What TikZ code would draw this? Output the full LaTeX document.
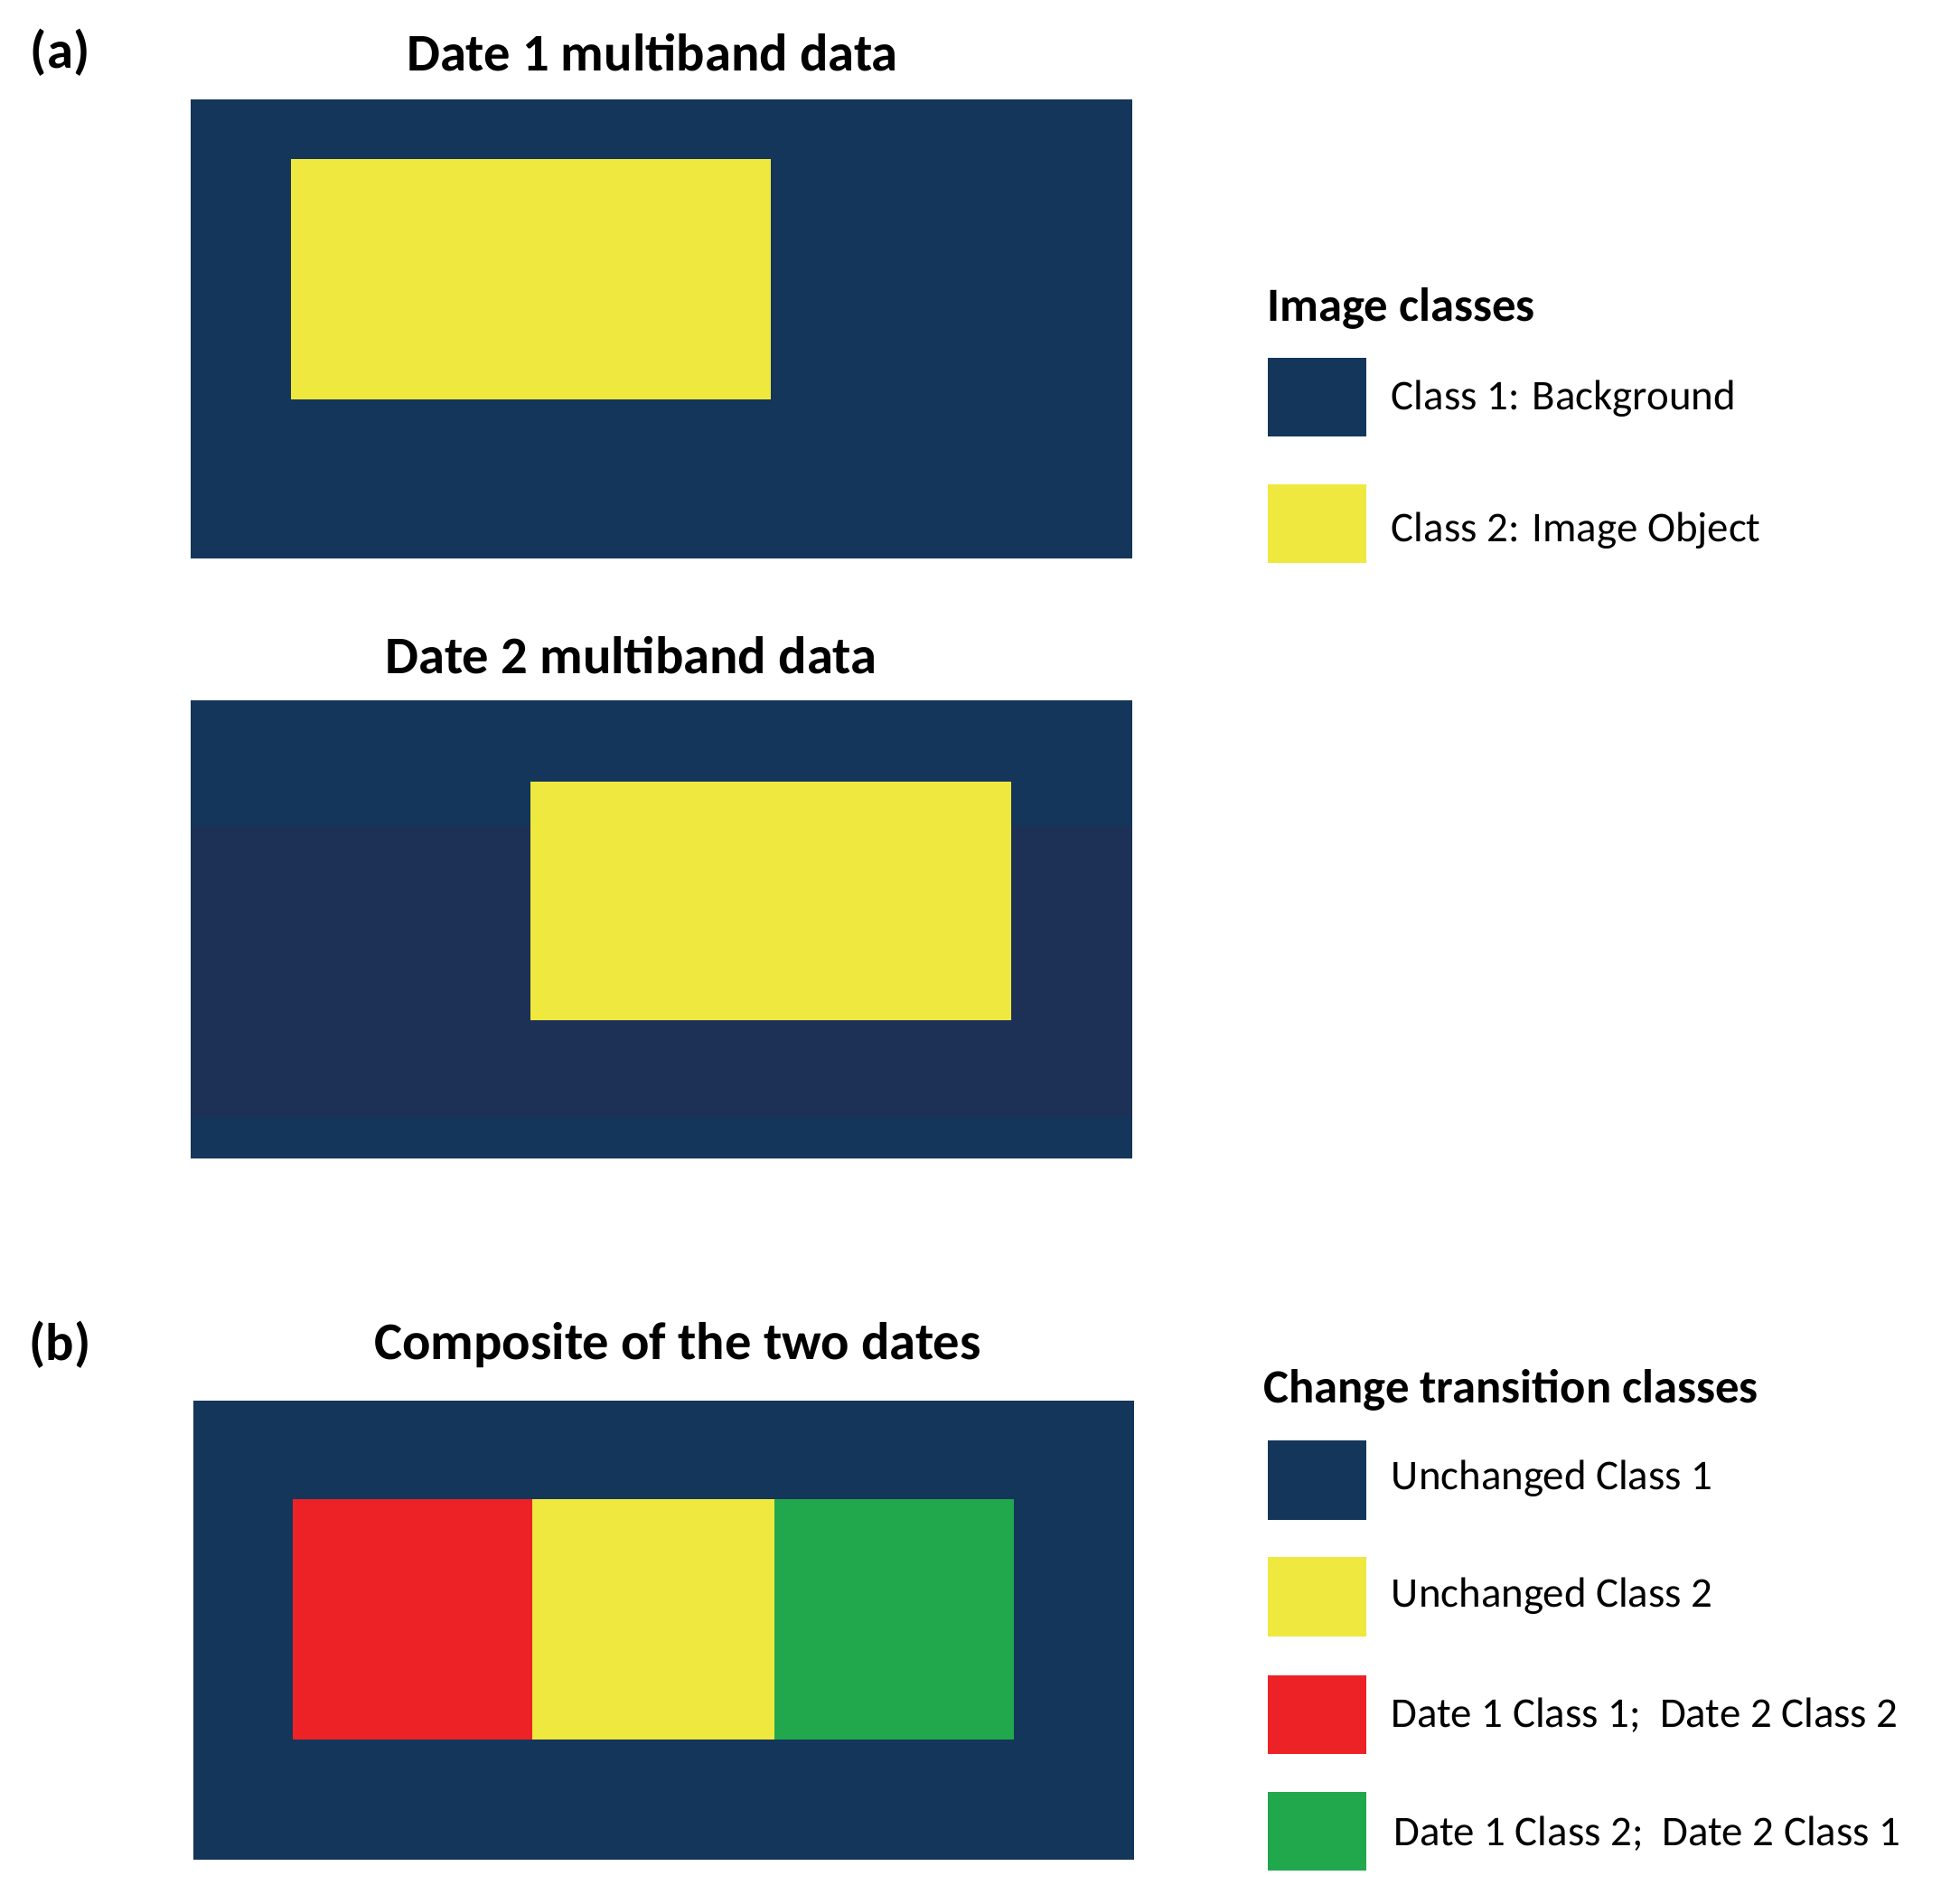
\documentclass[tikz,border=0pt]{standalone}
\usepackage{fontspec}
\setmainfont{Carlito}
\begin{document}
\begin{tikzpicture}[x=0.25mm,y=-0.25mm,
  ttl/.style={font=\fontsize{30}{34}\selectfont\bfseries},
  lbl/.style={font=\fontsize{24}{28}\selectfont,anchor=west},
  lgd/.style={font=\fontsize{27}{30}\selectfont\bfseries,anchor=west}]
\definecolor{navy}{HTML}{14365A}
\definecolor{navyb}{HTML}{1D3157}
\definecolor{yel}{HTML}{EFE83F}
\definecolor{red2}{HTML}{EC2227}
\definecolor{grn}{HTML}{21A84D}
\useasboundingbox (0,0) rectangle (1562,1502);
\node[ttl] (la) at (48,42) {(a)};
\node[ttl] (t1) at (520,42) {Date 1 multiband data};
\fill[navy] (152,79) rectangle (902,445);
\fill[yel] (232,127) rectangle (614,318);
\node[ttl] (t2) at (503,522) {Date 2 multiband data};
\fill[navy] (152,558) rectangle (902,923);
\fill[navyb] (152,658) rectangle (902,890);
\fill[yel] (423,623) rectangle (806,813);
\node[lgd] (lg1) at (1005,246) {Image classes};
\fill[navy] (1010,285) rectangle (1089,348);
\fill[yel] (1010,386) rectangle (1089,449);
\node[lbl] (c1) at (1104,318) {Class 1: Background};
\node[lbl] (c2) at (1104,423) {Class 2: Image Object};
\node[ttl] (lb) at (48,1072) {(b)};
\node[ttl] (t3) at (540,1072) {Composite of the two dates};
\fill[navy] (154,1116) rectangle (904,1482);
\fill[red2] (233,1195) rectangle (424,1386);
\fill[yel] (424,1195) rectangle (617,1386);
\fill[grn] (617,1195) rectangle (808,1386);
\node[lgd] (lg2) at (1002,1108) {Change transition classes};
\fill[navy] (1010,1148) rectangle (1089,1211);
\fill[yel] (1010,1241) rectangle (1089,1304);
\fill[red2] (1010,1335) rectangle (1089,1398);
\fill[grn] (1010,1428) rectangle (1089,1491);
\node[lbl] (d1) at (1104,1178) {Unchanged Class 1};
\node[lbl] (d2) at (1104,1272) {Unchanged Class 2};
\node[lbl] (d3) at (1104,1367) {Date 1 Class 1;\ \ Date 2 Class 2};
\node[lbl] (d4) at (1106,1461) {Date 1 Class 2;\ \ Date 2 Class 1};
\end{tikzpicture}
\end{document}
